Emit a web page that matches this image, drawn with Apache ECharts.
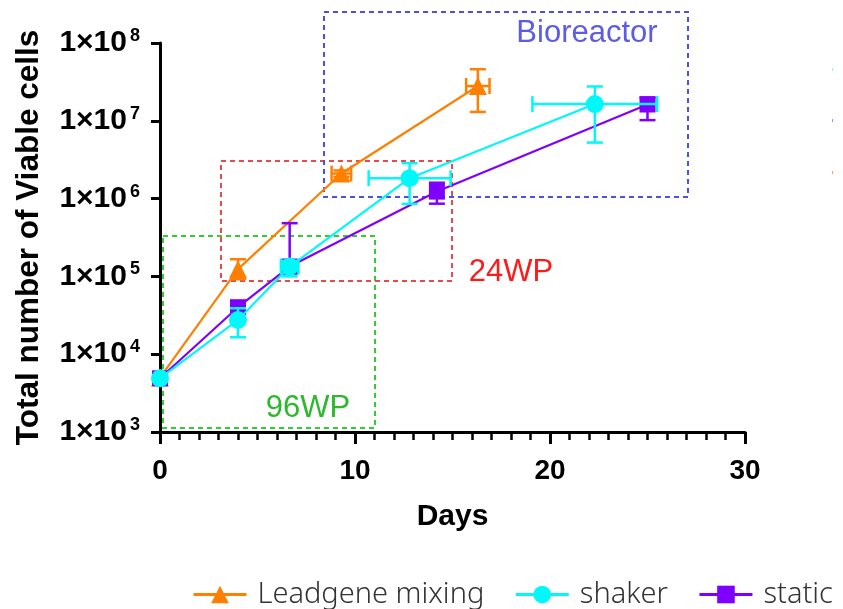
<!DOCTYPE html>
<html>
<head>
<meta charset="utf-8">
<script src="https://cdn.jsdelivr.net/npm/echarts@6/dist/echarts.min.js"></script>
<style>html,body{margin:0;padding:0;background:#fff}#c{width:843px;height:609px}</style>
</head>
<body>
<div id="c"></div>
<script>
// ---- data ----
const seriesNames = ['Leadgene mixing', 'shaker', 'static'];

const mixDays  = [0, 4, 9.3, 16.3];
const mixCells = [5000, 124000, 2.1e6, 2.8e7];
const mixLow   = [5000, 92000, 1.9e6, 1.3e7];
const mixHigh  = [5000, 166000, 2.3e6, 4.6e7];
const mixDayErr = [0, 0, 0.5, 0.6];

const shakerDays  = [0, 4, 6.65, 12.8, 22.3];
const shakerCells = [4900, 27600, 134000, 1.83e6, 1.64e7];
const shakerLow   = [4900, 16500, 100000, 8.55e5, 5.25e6];
const shakerHigh  = [4900, 39000, 158000, 2.85e6, 2.76e7];
const shakerDayErr = [0, 0, 0.45, 2.1, 3.2];

const staticDays  = [0, 4, 6.65, 14.2, 25];
const staticCells = [4900, 40200, 134000, 1.23e6, 1.62e7];
const staticLow   = [4900, 36000, 110000, 8.6e5, 1.02e7];
const staticHigh  = [4900, 44000, 483000, 1.6e6, 2.0e7];
const staticDayErr = [0, 0, 0, 0, 0];

const xTicks = [0, 10, 20, 30];
const yTickExponents = [3, 4, 5, 6, 7, 8];

const colors = ['#FF8000', '#00F8F8', '#8000FF'];
const symbols = ['triangle', 'circle', 'rect'];
const symbolSizes = [18, 18, 16];
const zOrder = [3, 6, 4];

function pts(d, v) { return d.map((x, i) => [x, v[i]]); }
function errs(d, v, lo, hi, de) { return d.map((x, i) => [x, v[i], x - de[i], x + de[i], lo[i], hi[i]]); }

const groups = [
  { line: pts(mixDays, mixCells), err: errs(mixDays, mixCells, mixLow, mixHigh, mixDayErr) },
  { line: pts(shakerDays, shakerCells), err: errs(shakerDays, shakerCells, shakerLow, shakerHigh, shakerDayErr) },
  { line: pts(staticDays, staticCells), err: errs(staticDays, staticCells, staticLow, staticHigh, staticDayErr) }
];

function makeErrorRender(color) {
  return function (params, api) {
    const x = api.value(0), y = api.value(1);
    const xl = api.value(2), xh = api.value(3), yl = api.value(4), yh = api.value(5);
    const c = api.coord([x, y]);
    const children = [];
    const cap = 8;
    const st = { stroke: color, lineWidth: 2.5, fill: null };
    if (yl !== yh) {
      const pl = api.coord([x, yl]), ph = api.coord([x, yh]);
      children.push({ type: 'line', shape: { x1: c[0], y1: pl[1], x2: c[0], y2: ph[1] }, style: st });
      children.push({ type: 'line', shape: { x1: c[0] - cap, y1: pl[1], x2: c[0] + cap, y2: pl[1] }, style: st });
      children.push({ type: 'line', shape: { x1: c[0] - cap, y1: ph[1], x2: c[0] + cap, y2: ph[1] }, style: st });
    }
    if (xl !== xh) {
      const pl = api.coord([xl, y]), ph = api.coord([xh, y]);
      children.push({ type: 'line', shape: { x1: pl[0], y1: c[1], x2: ph[0], y2: c[1] }, style: st });
      children.push({ type: 'line', shape: { x1: pl[0], y1: c[1] - cap, x2: pl[0], y2: c[1] + cap }, style: st });
      children.push({ type: 'line', shape: { x1: ph[0], y1: c[1] - cap, x2: ph[0], y2: c[1] + cap }, style: st });
    }
    return { type: 'group', children: children };
  };
}

const series = [];
groups.forEach((g, i) => {
  series.push({
    name: seriesNames[i], type: 'line', data: g.line,
    symbol: symbols[i], symbolSize: symbolSizes[i], showAllSymbol: true,
    lineStyle: { color: colors[i], width: 2.2 },
    itemStyle: { color: colors[i] }, z: zOrder[i], animation: false
  });
  series.push({
    name: seriesNames[i], type: 'custom', data: g.err,
    renderItem: makeErrorRender(colors[i]), z: zOrder[i], animation: false,
    encode: { x: [0, 2, 3], y: [1, 4, 5] }
  });
});

const chart = echarts.init(document.getElementById('c'), null, { renderer: 'canvas' });
const font = '"Liberation Sans", Arial, sans-serif';
chart.setOption({
  animation: false,
  textStyle: { fontFamily: font },
  grid: { left: 160, right: 98, top: 43, bottom: 177 },
  legend: {
    data: seriesNames.map(n => ({ name: n })),
    left: 187, top: 575, width: 800, itemWidth: 53, itemHeight: 22, itemGap: 30,
    lineStyle: { width: 3 },
    textStyle: { fontFamily: '"Noto Sans", "Open Sans", sans-serif', fontWeight: 300, fontSize: 29, color: '#333', padding: [0, 0, 0, 6] }
  },
  xAxis: {
    type: 'value', min: xTicks[0], max: xTicks[xTicks.length - 1], interval: 10,
    name: 'Days', nameLocation: 'middle', nameGap: 70,
    nameTextStyle: { fontFamily: font, fontWeight: 'bold', fontSize: 30, color: '#000' },
    axisLine: { lineStyle: { color: '#000', width: 3 } },
    axisTick: { show: true, length: 12, lineStyle: { color: '#000', width: 3 } },
    minorTick: { show: true, splitNumber: 10, length: 8, lineStyle: { color: '#000', width: 2.5 } },
    splitLine: { show: false },
    axisLabel: { margin: 25, fontFamily: font, fontWeight: 'bold', fontSize: 28, color: '#000' }
  },
  yAxis: {
    type: 'log', logBase: 10, min: Math.pow(10, yTickExponents[0]), max: Math.pow(10, yTickExponents[yTickExponents.length - 1]),
    name: 'Total number of Viable cells', nameLocation: 'middle', nameGap: 115,
    nameTextStyle: { fontFamily: font, fontWeight: 'bold', fontSize: 31.5, color: '#000' },
    axisLine: { lineStyle: { color: '#000', width: 3 } },
    axisTick: { show: true, length: 9, lineStyle: { color: '#000', width: 3 } },
    splitLine: { show: false },
    axisLabel: {
      margin: 20,
      formatter: v => '{b|1×10}{s|' + Math.round(Math.log10(v)) + '}',
      rich: {
        b: { fontFamily: font, fontWeight: 'bold', fontSize: 30, color: '#000' },
        s: { fontFamily: font, fontWeight: 'bold', fontSize: 18, color: '#000', padding: [0, 0, 14, 3] }
      }
    }
  },
  graphic: [
    { type: 'rect', z: 1, shape: { x: 163, y: 236, width: 212, height: 192 }, style: { fill: null, stroke: '#33CC33', lineWidth: 2, lineDash: [5, 4] } },
    { type: 'rect', z: 1, shape: { x: 221, y: 161, width: 231, height: 120 }, style: { fill: null, stroke: '#E8494E', lineWidth: 2, lineDash: [5, 4] } },
    { type: 'rect', z: 1, shape: { x: 324, y: 12, width: 364, height: 185 }, style: { fill: null, stroke: '#4F4FE0', lineWidth: 2, lineDash: [5, 4] } },
    { type: 'text', z: 1, style: { text: '96WP', x: 308, y: 408, textAlign: 'center', textVerticalAlign: 'middle', fill: '#2DB82D', font: '31px "Liberation Sans", Arial, sans-serif' } },
    { type: 'text', z: 1, style: { text: '24WP', x: 511, y: 272, textAlign: 'center', textVerticalAlign: 'middle', fill: '#FF1A1A', font: '31px "Liberation Sans", Arial, sans-serif' } },
    { type: 'text', z: 1, style: { text: 'Bioreactor', x: 587, y: 33, textAlign: 'center', textVerticalAlign: 'middle', fill: '#5C5CE6', font: '31px "Liberation Sans", Arial, sans-serif' } },
    { type: 'rect', shape: { x: 832, y: 68, width: 1, height: 3 }, style: { fill: '#8FEFEF' } },
    { type: 'rect', shape: { x: 832, y: 119, width: 1, height: 3 }, style: { fill: '#B57FF0' } },
    { type: 'rect', shape: { x: 832, y: 171, width: 1, height: 3 }, style: { fill: '#F2A060' } }
  ],
  series: series
});
</script>
</body>
</html>
